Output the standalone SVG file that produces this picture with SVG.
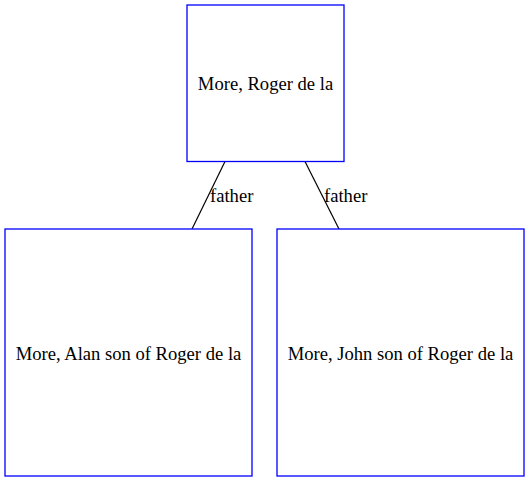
<svg xmlns="http://www.w3.org/2000/svg" width="531" height="482" viewBox="0 0 531 482">
<style>
.node rect{fill:#fff;stroke:#0000ff;stroke-width:1.3}
text{font-family:"Liberation Serif","Times New Roman",serif;font-size:18.6px;fill:#000}
.node text{text-anchor:middle}
.edge line{stroke:#000;stroke-width:1.2}
</style>
<rect width="531" height="482" fill="#fff"/>
<g id="connectors" class="edge">
<line x1="225" y1="161.5" x2="192" y2="229"/>
<line x1="305" y1="161.5" x2="339" y2="229"/>
<text x="210" y="202">father</text>
<text x="324" y="202">father</text>
</g>
<g id="roger" class="node">
<rect x="187" y="5" width="157" height="156.5"/>
<text x="265.5" y="90">More, Roger de la</text>
</g>
<g id="alan" class="node">
<rect x="5" y="229" width="247" height="247"/>
<text x="128.5" y="360">More, Alan son of Roger de la</text>
</g>
<g id="john" class="node">
<rect x="277" y="229" width="247" height="247"/>
<text x="400.5" y="360">More, John son of Roger de la</text>
</g>
</svg>
